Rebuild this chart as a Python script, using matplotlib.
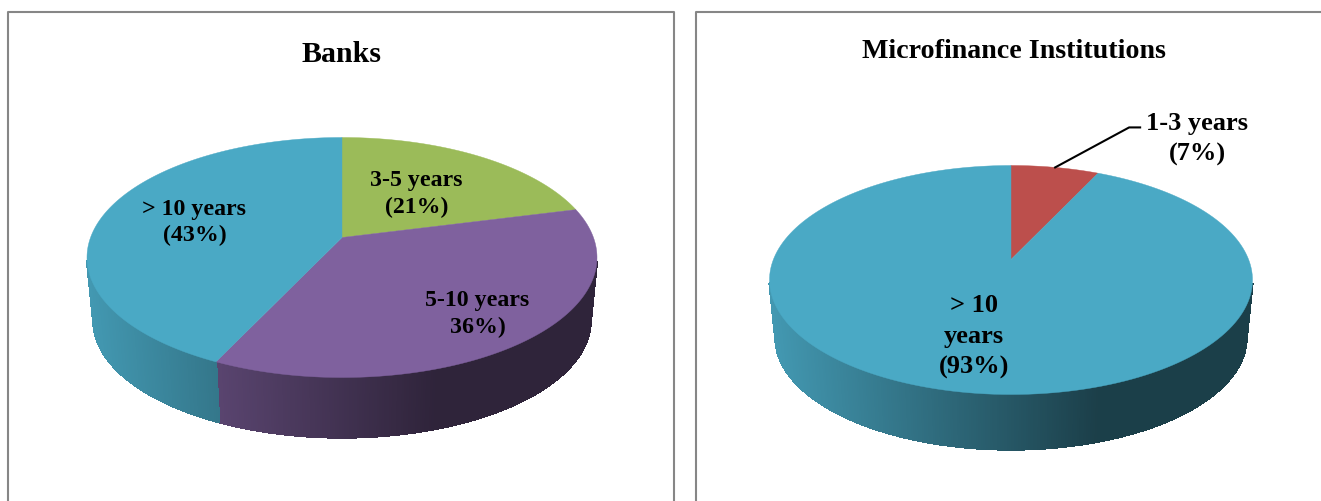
import numpy as np
import matplotlib
matplotlib.use("Agg")
import matplotlib.pyplot as plt
from matplotlib.patches import Polygon
from matplotlib.collections import PolyCollection

# --- data ---
bank_labels = ["3-5 years\n(21%)", "5-10 years\n36%)", "> 10 years\n(43%)"]
bank_values = [21, 36, 43]
bank_colors = ["#9BBB59", "#7F619E", "#4AA9C5"]

mfi_labels = ["1-3 years\n(7%)", "> 10\nyears\n(93%)"]
mfi_values = [7, 93]
mfi_colors = ["#BC4F4C", "#4AA9C5"]

# --- layout (pixels) ---
W, H = 1321, 502
BORDER = "#868686"
plt.rcParams["font.family"] = ["Liberation Serif", "DejaVu Serif"]
plt.rcParams["font.weight"] = "bold"


def rim(theta, cx, apex_y, rx, a, k, scale=1.0, dy=0.0):
    # perspective circle, theta runs clockwise from 12 o'clock
    x = np.sin(theta)
    y = -np.cos(theta)
    d = 1 - k * y
    return cx + scale * rx * x / d, apex_y + dy + scale * a * y / d


def shade(color, u):
    # wall gets darker going right, flat after about 2/3 of the width
    f = max(0.37, 0.90 - 0.78 * u)
    return tuple(c * f for c in matplotlib.colors.to_rgb(color))


def draw_pie(ax, values, colors, cx, apex_y, top, bottom, half_w, depth):
    up = apex_y - top
    down = bottom - apex_y
    k = (down - up) / (down + up)
    a = down * (1 - k)
    rx = half_w * np.sqrt(1 - k * k)
    scale = 0.975
    dy = depth + down * (1 - scale)

    edges = np.cumsum([0] + list(values)) / sum(values) * 2 * np.pi

    # side wall first, top faces go over it
    quads, quad_cols = [], []
    for i, col in enumerate(colors):
        n = max(int((edges[i + 1] - edges[i]) * 120), 2)
        th = np.linspace(edges[i], edges[i + 1], n)
        x1, y1 = rim(th, cx, apex_y, rx, a, k)
        x2, y2 = rim(th, cx, apex_y, rx, a, k, scale, dy)
        for j in range(n - 1):
            # wall only shows below the widest point of the ellipse
            if -np.cos((th[j] + th[j + 1]) / 2) < k + 0.03:
                continue
            quads.append([(x1[j], y1[j]), (x1[j + 1], y1[j + 1]),
                          (x2[j + 1], y2[j + 1]), (x2[j], y2[j])])
            u = ((x1[j] + x1[j + 1]) / 2 - (cx - half_w)) / (2 * half_w)
            quad_cols.append(shade(col, u))
    # no antialiasing here, otherwise the strips show as stripes
    ax.add_collection(PolyCollection(quads, facecolors=quad_cols, edgecolors=quad_cols,
                                     linewidths=1.0, antialiaseds=False))

    for i, col in enumerate(colors):
        th = np.linspace(edges[i], edges[i + 1], 200)
        x, y = rim(th, cx, apex_y, rx, a, k)
        pts = [(cx, apex_y)] + list(zip(x, y))
        ax.add_patch(Polygon(pts, closed=True, facecolor=col, edgecolor=col, linewidth=0.3))

    mids = (edges[:-1] + edges[1:]) / 2
    return [rim(m, cx, apex_y, rx, a, k) for m in mids]


fig = plt.figure(figsize=(W / 100, H / 100), dpi=100)
ax = fig.add_axes([0, 0, 1, 1])
ax.set_xlim(0, W)
ax.set_ylim(H, 0)
ax.axis("off")

# panel frames, cut off at the bottom of the image
ax.plot([8, 8, 674, 674], [H, 13, 13, H], color=BORDER, lw=1.5)
ax.plot([696, 696, W], [H, 13, 13], color=BORDER, lw=1.5)

draw_pie(ax, bank_values, bank_colors, 342, 238.5, 138.5, 378.5, 255, 60)
mfi_mids = draw_pie(ax, mfi_values, mfi_colors, 1011, 260.5, 166.5, 395.5, 241.5, 55)

# titles
ax.text(341, 54, "Banks", fontsize=21.5, ha="center", va="center")
ax.text(1013.5, 52, "Microfinance Institutions", fontsize=20.2, ha="center", va="center")

# slice labels
ax.text(416.5, 194, bank_labels[0], fontsize=17.2, ha="center", va="center", linespacing=1.33)
ax.text(477.5, 314, bank_labels[1], fontsize=17.2, ha="center", va="center", linespacing=1.33)
ax.text(194.5, 222.5, bank_labels[2], fontsize=17.2, ha="center", va="center", linespacing=1.33)
ax.text(1197.5, 139, mfi_labels[0], fontsize=19, ha="center", va="center", linespacing=1.42)
ax.text(974, 336.5, mfi_labels[1], fontsize=19, ha="center", va="center", linespacing=1.42)

# leader for the small slice
mx, my = mfi_mids[0]
ax.plot([mx, mx + 74, mx + 85], [my, my - 40, my - 40], color="black", lw=1.5)

fig.savefig("out.png", dpi=100)
